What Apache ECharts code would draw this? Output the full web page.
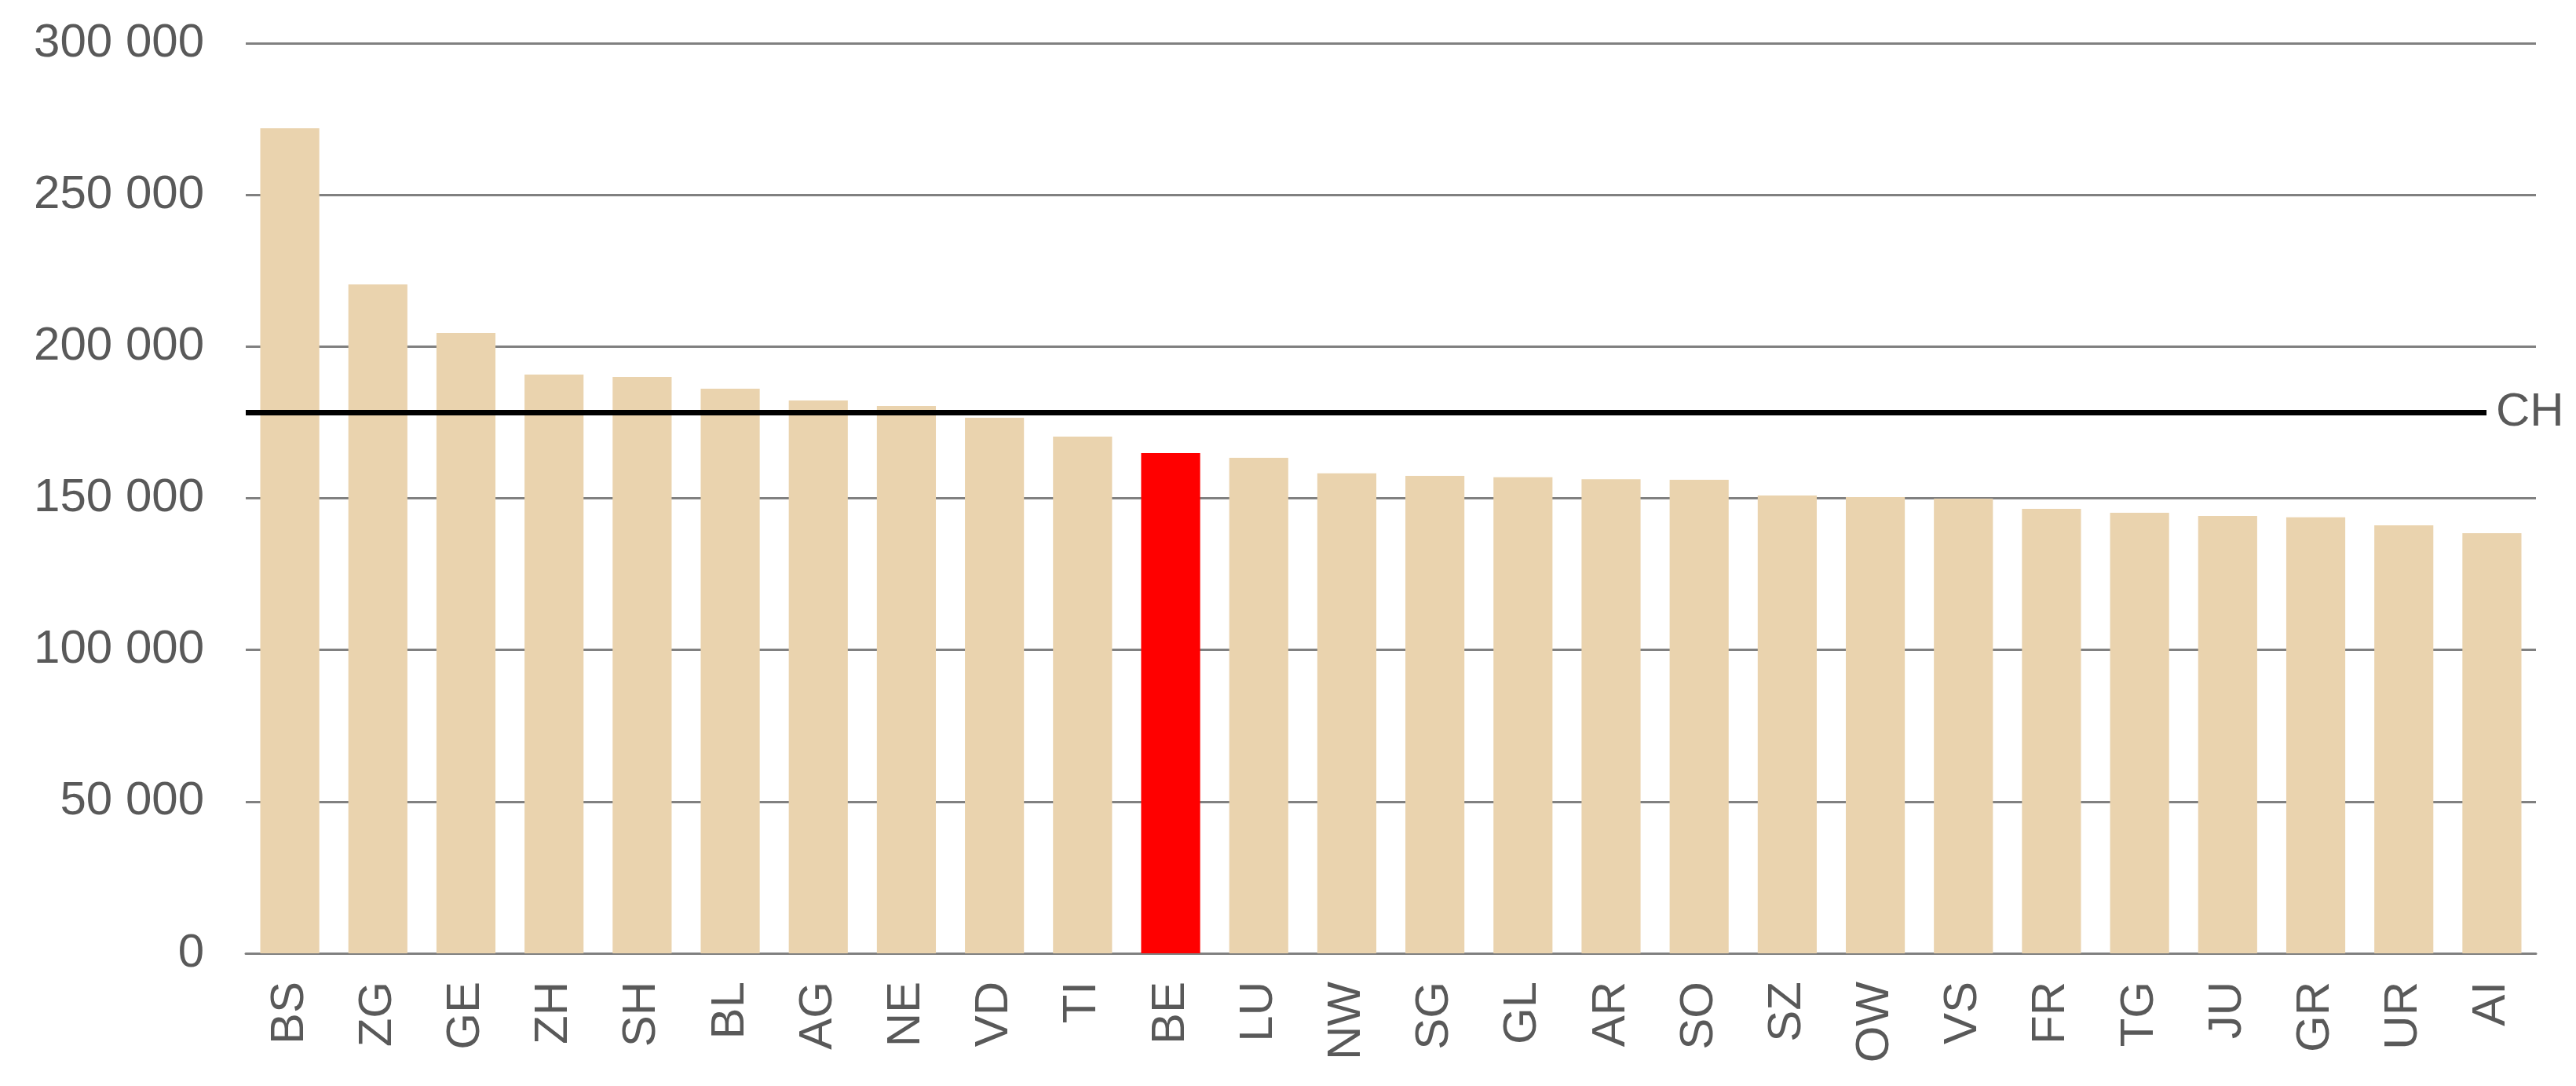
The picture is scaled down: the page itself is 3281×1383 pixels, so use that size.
<!DOCTYPE html>
<html>
<head>
<meta charset="utf-8">
<script src="https://cdn.jsdelivr.net/npm/echarts@6/dist/echarts.min.js"></script>
<style>
html,body{margin:0;padding:0;background:#fff;}
#chart{width:3281px;height:1383px;}
</style>
</head>
<body>
<div id="chart"></div>
<script>
const cantons = ['BS','ZG','GE','ZH','SH','BL','AG','NE','VD','TI','BE','LU','NW','SG','GL','AR','SO','SZ','OW','VS','FR','TG','JU','GR','UR','AI'];
const values = [272000, 220500, 204500, 190800, 190000, 186100, 182200, 180400, 176500, 170300, 164900, 163300, 158200, 157400, 156900, 156300, 156100, 150900, 150400, 149900, 146500, 145200, 144200, 143700, 141100, 138500];
const highlight = 'BE';
const chValue = 178200;
const chLabel = 'CH';
const yTicks = [0, 50000, 100000, 150000, 200000, 250000, 300000];

const FONT = '"Liberation Sans", Arial, sans-serif';
const TEXT = '#595959';
const BAR = '#EAD3AE';
const RED = '#FF0000';
const GRID = '#808080';
const CH_END = 0.9784; // fraction of plot width where the CH line stops

const chart = echarts.init(document.getElementById('chart'), null, {renderer: 'canvas'});
chart.setOption({
  animation: false,
  backgroundColor: '#ffffff',
  grid: {left: 313, right: 51, top: 55, bottom: 169, containLabel: false},
  xAxis: [{
    type: 'category',
    data: cantons,
    boundaryGap: true,
    axisLine: {show: true, lineStyle: {color: GRID, width: 3}},
    axisTick: {show: false},
    axisLabel: {rotate: 90, margin: 36, fontSize: 60, fontFamily: FONT, color: TEXT}
  }, {
    type: 'value',
    min: 0, max: 1,
    show: false
  }],
  yAxis: {
    type: 'value',
    min: yTicks[0],
    max: yTicks[yTicks.length - 1],
    interval: yTicks[1] - yTicks[0],
    axisLine: {show: false},
    axisTick: {show: false},
    splitLine: {show: true, lineStyle: {color: GRID, width: 3}},
    axisLabel: {
      margin: 53, fontSize: 60, fontFamily: FONT, color: TEXT,
      formatter: v => String(v).replace(/\B(?=(\d{3})+(?!\d))/g, ' ')
    }
  },
  series: [{
    type: 'bar',
    xAxisIndex: 0,
    barWidth: '67%',
    data: values.map((v, i) => ({
      value: v,
      itemStyle: {color: cantons[i] === highlight ? RED : BAR}
    })),
    z: 2
  }, {
    type: 'line',
    xAxisIndex: 1,
    data: [[0, chValue], [CH_END, chValue]],
    symbol: 'none',
    lineStyle: {color: '#000000', width: 7},
    endLabel: {
      show: true, formatter: chLabel, distance: 12,
      fontSize: 60, fontFamily: FONT, color: TEXT
    },
    z: 5
  }]
});
</script>
</body>
</html>
